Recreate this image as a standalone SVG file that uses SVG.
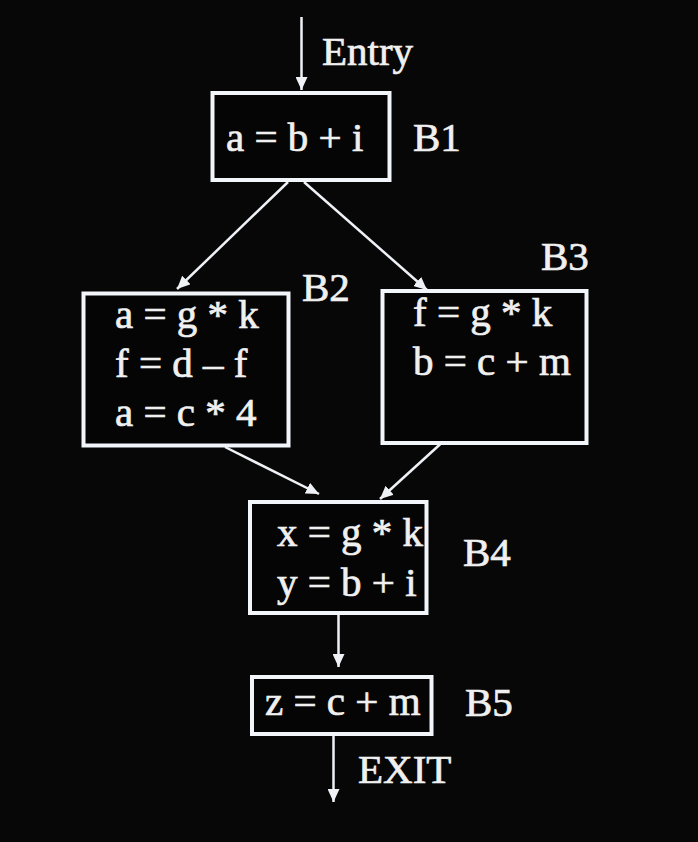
<svg xmlns="http://www.w3.org/2000/svg" width="698" height="842" viewBox="0 0 698 842">
<style>
.bg{fill:#070707}
.box{fill:#050505;stroke:#f2f5fa;stroke-width:4}
.t{font-family:"Liberation Serif","Times New Roman",serif;font-size:41px;fill:#f0f0f0;stroke:#f0f0f0;stroke-width:0.7}
.edge{stroke:#eef1f6;stroke-width:2.5;fill:none}
</style>
<defs>
<marker id="ah" markerUnits="userSpaceOnUse" markerWidth="14" markerHeight="12" refX="13" refY="6" orient="auto">
<path d="M0,0 L13,6 L0,12 z" fill="#eef1f6"/>
</marker>
</defs>
<rect class="bg" x="0" y="0" width="698" height="842"/>
<g id="connectors">
<line class="edge" x1="301.5" y1="17" x2="301.5" y2="90" marker-end="url(#ah)"/>
<line class="edge" x1="288" y1="182" x2="177" y2="289" marker-end="url(#ah)"/>
<line class="edge" x1="304" y1="182" x2="427" y2="290" marker-end="url(#ah)"/>
<line class="edge" x1="225" y1="447" x2="319" y2="494" marker-end="url(#ah)"/>
<line class="edge" x1="447" y1="438" x2="380" y2="499" marker-end="url(#ah)"/>
<line class="edge" x1="338.5" y1="615" x2="338.5" y2="667" marker-end="url(#ah)"/>
<line class="edge" x1="333.5" y1="736" x2="333.5" y2="802" marker-end="url(#ah)"/>
</g>
<text class="t" x="322" y="65">Entry</text>
<text class="t" x="358" y="783">EXIT</text>
<g id="B1">
<rect class="box" x="212.5" y="93" width="177" height="87"/>
<text class="t" x="226" y="151">a = b + i</text>
<text class="t" x="413" y="151">B1</text>
</g>
<g id="B2">
<rect class="box" x="83.5" y="293.5" width="205" height="152"/>
<text class="t" x="115" y="328">a = g * k</text>
<text class="t" x="115" y="377">f = d – f</text>
<text class="t" x="115" y="426">a = c * 4</text>
<text class="t" x="302" y="301">B2</text>
</g>
<g id="B3">
<rect class="box" x="382.5" y="291" width="204" height="152"/>
<text class="t" x="413" y="326">f = g * k</text>
<text class="t" x="413" y="375">b = c + m</text>
<text class="t" x="541" y="270">B3</text>
</g>
<g id="B4">
<rect class="box" x="250" y="502" width="176.5" height="111"/>
<text class="t" x="277" y="546">x = g * k</text>
<text class="t" x="277" y="596">y = b + i</text>
<text class="t" x="463" y="566">B4</text>
</g>
<g id="B5">
<rect class="box" x="252" y="677" width="179.5" height="57"/>
<text class="t" x="265" y="715">z = c + m</text>
<text class="t" x="465" y="716">B5</text>
</g>
</svg>
